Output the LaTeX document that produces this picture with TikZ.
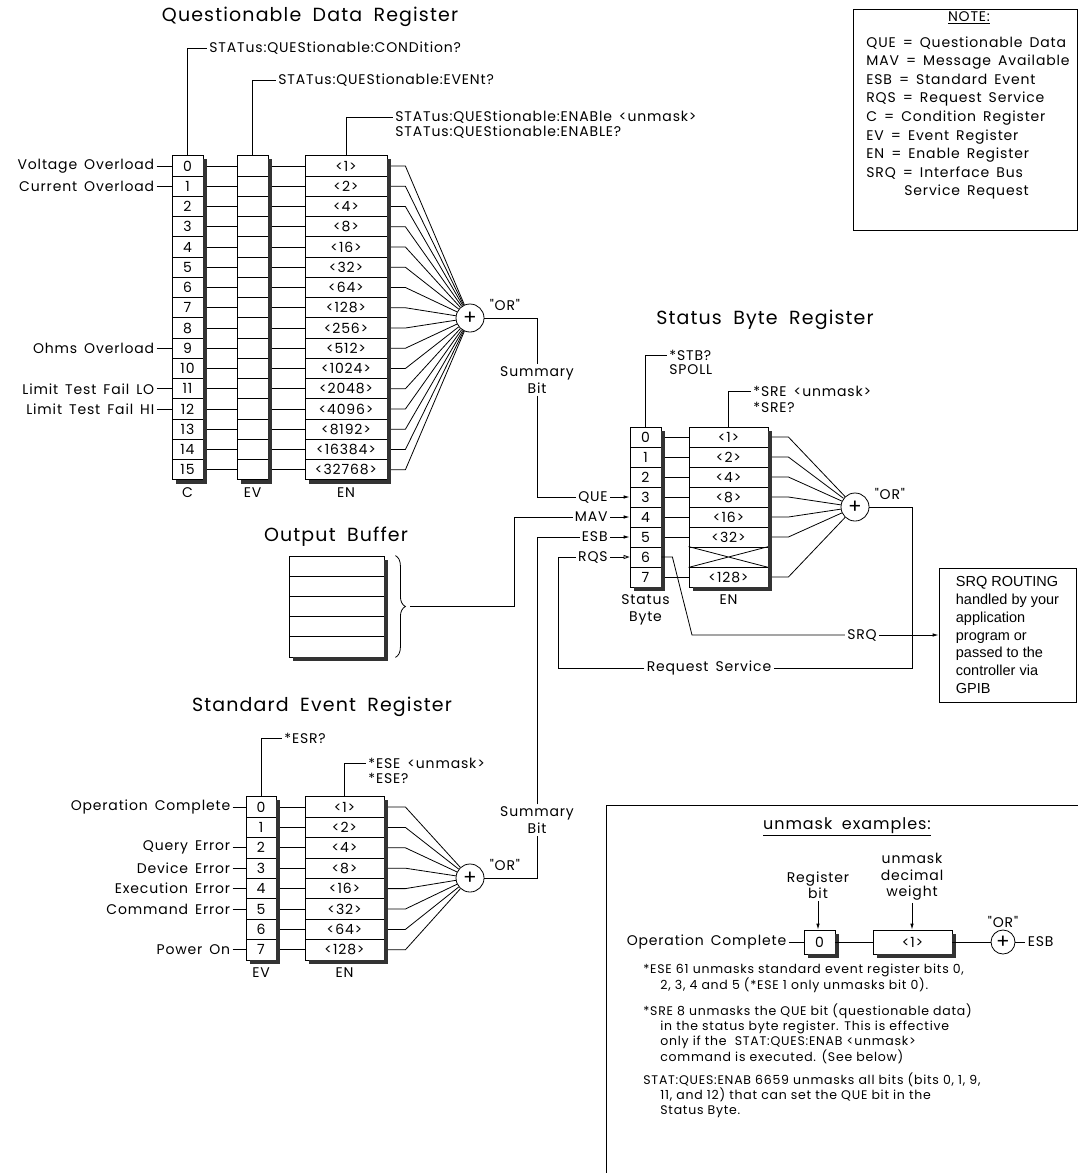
\documentclass[tikz,border=0pt]{standalone}
\usepackage{fontspec}
\newfontfamily\cadfamily{Poppins}[LetterSpace=6]
\newfontfamily\routefamily{Liberation Sans}
\usetikzlibrary{arrows.meta, positioning, calc, decorations.pathreplacing}
\newcommand{\lblfont}{\cadfamily\fontsize{14}{16.5}\selectfont\spaceskip=0.5em\relax}
\newcommand{\ttlfont}{\cadfamily\fontsize{19}{22}\selectfont\spaceskip=0.6em\relax}
\newcommand{\headfont}{\cadfamily\fontsize{16}{18}\selectfont\spaceskip=0.6em\relax}
\newcommand{\notefont}{\cadfamily\fontsize{14}{18.6}\selectfont\spaceskip=0.5em\relax}
\newcommand{\bodyfont}{\cadfamily\fontsize{12.5}{15.4}\selectfont}
\newcommand{\routefont}{\routefamily\fontsize{14.5}{17.8}\selectfont}
% dark edge on the right and bottom of a register column
\newcommand{\regshadow}[2]{%
  \fill[regshade] ($(#1.north east)+(0,4)$) rectangle ($(#2.south east)+(4,4)$);
  \fill[regshade] ($(#2.south west)+(4,0)$) rectangle ($(#2.south east)+(4,4)$);}
\tikzset{
    % one bit of a register
    cell/.style={draw, fill=white, inner sep=0pt, minimum height=20pt,
                 text height=10pt, text depth=0pt, font=\lblfont},
    % plain text on the wires
    lbl/.style={font=\lblfont, inner sep=2pt},
    ttl/.style={font=\ttlfont, inner sep=0pt},
    body/.style={font=\bodyfont, inner sep=0pt, align=left},
    % summing "OR" gate
    orgate/.style={circle, draw, fill=white, minimum size=28pt, inner sep=0pt,
                   font=\cadfamily\fontsize{20}{20}\selectfont},
    regshade/.style={fill=black!80},
    arr/.style={-{Latex[length=6pt, width=3.5pt]}},
    oarr/.style={-{Triangle[open, length=6pt, width=4pt]}},
}

\begin{document}
\begin{tikzpicture}[x=1pt, y=-1pt, line width=0.8pt]
\useasboundingbox (0,0) rectangle (1078,1173);

% ===== questionable data register =====
\node[ttl] (qdrtitle) at (310,17) {Questionable Data Register};
\node[orgate] (qor) at (470,318) {+};
\node[lbl, anchor=west] at ($(qor.east)+(3,-13)$) {"OR"};

\foreach \i/\w in {0/<1>,1/<2>,2/<4>,3/<8>,4/<16>,5/<32>,6/<64>,7/<128>,8/<256>,
                   9/<512>,10/<1024>,11/<2048>,12/<4096>,13/<8192>,14/<16384>,15/<32768>} {
    \node[cell, minimum width=31pt, minimum height=20.25pt] (qc\i) at (187.5,{166+20.25*\i}) {\i};
    \node[cell, minimum width=31pt, minimum height=20.25pt] (qev\i) at (252.5,{166+20.25*\i}) {};
    \node[cell, minimum width=82pt, minimum height=20.25pt] (qen\i) at (346,{166+20.25*\i}) {\w};
    \draw (qc\i.east) -- (qev\i.west);
    \draw (qev\i.east) -- (qen\i.west);
    \draw (qen\i.east) -- ++(18,0) -- (qor);
}
\regshadow{qc0}{qc15}
\regshadow{qev0}{qev15}
\regshadow{qen0}{qen15}

\foreach \i/\t in {0/Voltage Overload,1/Current Overload,9/Ohms Overload,
                   11/Limit Test Fail LO,12/Limit Test Fail HI} {
    \node[lbl, left=15pt of qc\i] (qlab\i) {\t};
    \draw (qlab\i) -- (qc\i);
}

\node[lbl, anchor=west] (qcond) at (207,48) {STATus:QUEStionable:CONDition?};
\draw (qc0.north) |- (qcond);
\node[lbl, anchor=west] (qevt) at (276,80) {STATus:QUEStionable:EVENt?};
\draw (qev0.north) |- (qevt);
\node[lbl, anchor=west] (qenab) at (393,117) {STATus:QUEStionable:ENABle <unmask>};
\node[lbl, anchor=west] (qenabq) at (393,132) {STATus:QUEStionable:ENABLE?};
\draw (qen0.north) |- (qenab);

\node[lbl, below=5pt of qc15] {C};
\node[lbl, below=5pt of qev15] {EV};
\node[lbl, below=5pt of qen15] {EN};

\node[lbl, align=center, fill=white] (qsum) at (537,380) {Summary\\Bit};
\draw (qor) -| (qsum);

% ===== status byte register =====
\node[ttl] (sbtitle) at (765,320) {Status Byte Register};
\node[orgate] (sbor) at (855,507) {+};
\node[lbl, anchor=west] at ($(sbor.east)+(3,-13)$) {"OR"};

\foreach \i/\w in {0/<1>,1/<2>,2/<4>,3/<8>,4/<16>,5/<32>,6/{},7/<128>} {
    \node[cell, minimum width=31pt] (sb\i) at (645.5,{437+20*\i}) {\i};
    \node[cell, minimum width=79pt] (sben\i) at (728.5,{437+20*\i}) {\w};
}
\foreach \i in {0,1,2,3,4,5,7} {
    \draw (sb\i.east) -- (sben\i.west);
    \draw (sben\i.east) -- ++(20,0) -- (sbor);
}
% bit 6 of the enable register is not used
\draw (sben6.north west) -- (sben6.south east) (sben6.south west) -- (sben6.north east);
\regshadow{sb0}{sb7}
\regshadow{sben0}{sben7}

\node[lbl, anchor=west] (stb) at (667,355) {*STB?};
\node[lbl, anchor=west] at (667,370) {SPOLL};
\draw (sb0.north) |- (stb);
\node[lbl, anchor=west] (sre) at (751,391) {*SRE <unmask>};
\node[lbl, anchor=west] at (751,407) {*SRE?};
\draw (sben0.north) |- (sre);
\node[lbl, align=center, below=5pt of sb7] {Status\\Byte};
\node[lbl, below=5pt of sben7] {EN};

% summary inputs of the status byte
\node[lbl, anchor=east] (que) at (610,497) {QUE};
\node[lbl, anchor=east] (mav) at (610,517) {MAV};
\node[lbl, anchor=east] (esb) at (610,537) {ESB};
\node[lbl, anchor=east] (rqs) at (610,557) {RQS};
\draw[arr] (que) -- (sb3);
\draw[arr] (mav) -- (sb4);
\draw[arr] (esb) -- (sb5);
\draw[oarr] (rqs) -- (sb6);
\draw (qsum) |- (que);

% service request
\node[draw, align=left, minimum width=137pt, minimum height=134pt, font=\routefont]
    (route) at (1007.5,635) {SRQ ROUTING\\handled by your\\application\\program or\\passed to the\\controller via\\GPIB};
\coordinate (srqk) at (692,635);
\node[lbl] (srq) at (862,635) {SRQ};
\draw (sb6.east) -- ++(11,0) -- (srqk) -- (srq);
\draw[arr] (srq) -- (route);
\coordinate (rsk) at (912,668);
\coordinate (rqsk) at (558,668);
\node[lbl] (reqsvc) at (709,668) {Request Service};
\draw (sbor) -| (rsk) -- (reqsvc);
\draw (reqsvc) -- (rqsk) |- (rqs);

% ===== output buffer =====
\node[ttl] (obtitle) at (336,537) {Output Buffer};
\foreach \i in {0,...,4} {
    \node[cell, minimum width=95pt, minimum height=20.2pt] (ob\i) at (336.5,{566.1+20.2*\i}) {};
}
\regshadow{ob0}{ob4}
\draw[decorate, decoration={brace, amplitude=10pt}]
    ($(ob0.north east)+(11,0)$) -- ($(ob4.south east)+(11,0)$);
\coordinate (obtip) at ($(ob2.east)+(26,0)$);
\draw (obtip) -- ++(104,0) |- (mav);

% ===== standard event register =====
\node[ttl] (sertitle) at (322,707) {Standard Event Register};
\node[orgate] (seor) at (470,878) {+};
\node[lbl, anchor=west] at ($(seor.east)+(3,-13)$) {"OR"};

\foreach \i/\w in {0/<1>,1/<2>,2/<4>,3/<8>,4/<16>,5/<32>,6/<64>,7/<128>} {
    \node[cell, minimum width=30pt, minimum height=20.4pt] (sev\i) at (261,{807+20.4*\i}) {\i};
    \node[cell, minimum width=79pt, minimum height=20.4pt] (sen\i) at (344.5,{807+20.4*\i}) {\w};
    \draw (sev\i.east) -- (sen\i.west);
    \draw (sen\i.east) -- ++(21,0) -- (seor);
}
\regshadow{sev0}{sev7}
\regshadow{sen0}{sen7}

\foreach \i/\t in {0/Operation Complete,2/Query Error,3/Device Error,
                   4/Execution Error,5/Command Error,7/Power On} {
    \node[lbl, left=13pt of sev\i] (slab\i) {\t};
    \draw (slab\i) -- (sev\i);
}

\node[lbl, anchor=west] (esr) at (282,738) {*ESR?};
\draw (sev0.north) |- (esr);
\node[lbl, anchor=west] (ese) at (366,763) {*ESE <unmask>};
\node[lbl, anchor=west] at (366,778) {*ESE?};
\draw (sen0.north) |- (ese);
\node[lbl, below=5pt of sev7] {EV};
\node[lbl, below=5pt of sen7] {EN};

\node[lbl, align=center, fill=white] (ssum) at (537,820) {Summary\\Bit};
\draw (seor) -| (ssum);
\draw (ssum) |- (esb);

% ===== note =====
\node[draw, minimum width=224pt, minimum height=221pt] (notebox) at (965,119.5) {};
\node[font=\notefont] (notehd) at (969,18) {\underline{NOTE:}};
\node[font=\notefont, align=left, anchor=north west, inner sep=0pt] (notelist) at (866,36)
    {QUE = Questionable Data\\MAV = Message Available\\ESB = Standard Event\\RQS = Request Service\\
     C = Condition Register\\EV = Event Register\\EN = Enable Register\\SRQ = Interface Bus\\
     \hspace*{38pt}Service Request};

% ===== unmask examples =====
\draw (606,1173) |- (1078,805);
\node[font=\headfont] (xhead) at (847,827) {\underline{unmask examples:}};
\node[lbl, align=center] (xregbit) at (818,885) {Register\\bit};
\node[lbl, align=center] (xweight) at (912,877) {unmask\\decimal\\weight};

\node[cell, minimum width=31pt, minimum height=24pt] (xbit) at (819.5,942) {0};
\node[cell, minimum width=79pt, minimum height=24pt] (xen) at (912.5,942) {<1>};
\regshadow{xbit}{xbit}
\regshadow{xen}{xen}
\node[orgate, minimum size=24pt] (xor) at (1003,942) {+};
\node[lbl, above=0pt of xor] {"OR"};
\node[lbl, left=15pt of xbit] (xop) {Operation Complete};
\node[lbl, right=10pt of xor] (xesb) {ESB};
\draw (xop) -- (xbit);
\draw (xbit.east) -- (xen.west);
\draw (xen.east) -- (xor);
\draw (xor) -- (xesb);
\draw[arr] (xregbit.south) -- (xregbit.south |- xbit.north);
\draw[arr] (xweight.south) -- (xweight.south |- xen.north);

\node[body, anchor=north west] (xtext1) at (643,964)
    {*ESE 61 unmasks standard event register bits 0,\\
     \hspace*{17pt}2, 3, 4 and 5 (*ESE 1 only unmasks bit 0).};
\node[body, anchor=north west] (xtext2) at (643,1003)
    {*SRE 8 unmasks the QUE bit (questionable data)\\
     \hspace*{17pt}in the status byte register. This is effective\\
     \hspace*{17pt}only if the\ \ STAT:QUES:ENAB <unmask>\\
     \hspace*{17pt}command is executed. (See below)};
\node[body, anchor=north west] (xtext3) at (643,1072)
    {STAT:QUES:ENAB 6659 unmasks all bits (bits 0, 1, 9,\\
     \hspace*{17pt}11, and 12) that can set the QUE bit in the\\
     \hspace*{17pt}Status Byte.};

\end{tikzpicture}
\end{document}
